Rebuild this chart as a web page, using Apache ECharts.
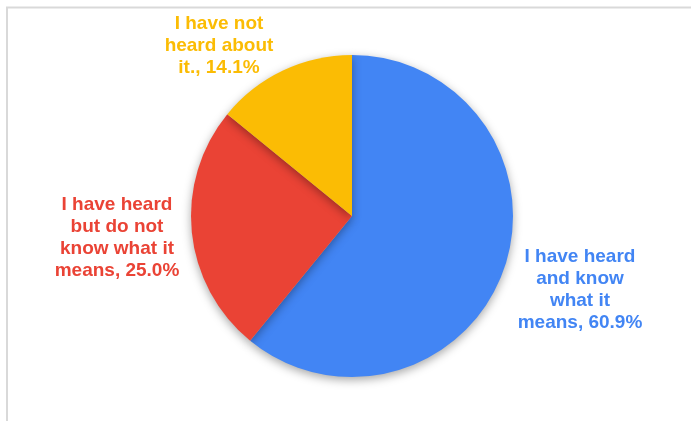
<!DOCTYPE html>
<html>
<head>
<meta charset="utf-8">
<script src="https://cdn.jsdelivr.net/npm/echarts@6/dist/echarts.min.js"></script>
<style>
  html, body { margin: 0; padding: 0; background: #ffffff; }
  #chart { width: 691px; height: 421px; }
</style>
</head>
<body>
<div id="chart"></div>
<script>
// Survey answers, in drawing order (clockwise from 12 o'clock)
const categories = [
  'I have heard\nand know\nwhat it\nmeans',
  'I have heard\nbut do not\nknow what it\nmeans',
  'I have not\nheard about\nit.'
];
const shares = [60.9, 25.0, 14.1];
const colors = ['#4285F4', '#EA4335', '#FBBC04'];
// Label anchor points (block centres) for each slice
const labelSpots = [[580, 290], [117, 238], [219, 46]];

const chart = echarts.init(document.getElementById('chart'), null, { renderer: 'canvas' });

chart.setOption({
  backgroundColor: '#ffffff',
  animation: false,
  graphic: [
    { type: 'line', shape: { x1: 6, y1: 7.5, x2: 691, y2: 7.5 }, style: { stroke: '#d9d9d9', lineWidth: 2 } },
    { type: 'line', shape: { x1: 7, y1: 7, x2: 7, y2: 421 }, style: { stroke: '#d9d9d9', lineWidth: 2 } }
  ],
  series: [{
    type: 'pie',
    center: [352, 216],
    radius: [0, 161],
    startAngle: 90,
    clockwise: true,
    data: categories.map((name, i) => ({
      name: name,
      value: shares[i],
      itemStyle: { color: colors[i] },
      label: { color: colors[i] }
    })),
    itemStyle: {
      shadowBlur: 10,
      shadowColor: 'rgba(0,0,0,0.35)',
      shadowOffsetY: 3
    },
    label: {
      show: true,
      formatter: p => p.name + ', ' + p.value.toFixed(1) + '%',
      fontFamily: 'Liberation Sans, Arial, sans-serif',
      fontWeight: 'bold',
      fontSize: 19,
      lineHeight: 22,
      align: 'center'
    },
    labelLine: { show: false },
    labelLayout: params => {
      const spot = labelSpots[params.dataIndex];
      return { x: spot[0], y: spot[1], align: 'center', verticalAlign: 'middle' };
    },
    emphasis: { disabled: true }
  }]
});
</script>
</body>
</html>
